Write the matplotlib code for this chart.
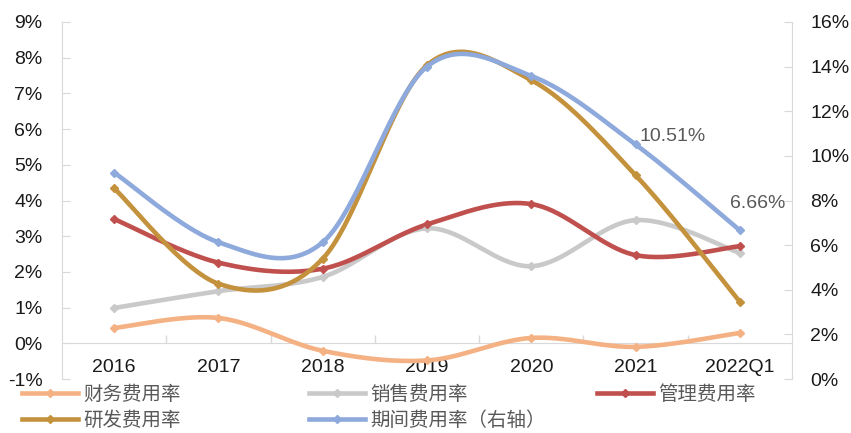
import numpy as np
import matplotlib
matplotlib.use("Agg")
import matplotlib.pyplot as plt
from matplotlib.lines import Line2D
from matplotlib.ticker import FixedLocator, FuncFormatter

plt.rcParams['font.family'] = ['Liberation Sans', 'Noto Sans CJK SC', 'DejaVu Sans']

categories = ['2016', '2017', '2018', '2019', '2020', '2021', '2022Q1']

# expense ratios (%), left axis
finance = [0.43, 0.71, -0.21, -0.48, 0.15, -0.10, 0.29]
sales = [0.99, 1.46, 1.86, 3.22, 2.16, 3.45, 2.53]
admin = [3.48, 2.26, 2.09, 3.33, 3.90, 2.47, 2.72]
rnd = [4.34, 1.67, 2.37, 7.79, 7.37, 4.71, 1.16]
# total period expense ratio (%), right axis
period = [9.25, 6.13, 6.13, 14.0, 13.58, 10.51, 6.66]

labels_cn = ['财务费用率', '销售费用率', '管理费用率', '研发费用率', '期间费用率（右轴）']
colors = ['#F4B183', '#C9C9C9', '#C0504D', '#C4913C', '#8EA9DB']


def smooth(xs, ys, n=40):
    """Bezier smoothing with Catmull-Rom style control points."""
    xs = np.asarray(xs, float)
    ys = np.asarray(ys, float)
    P = np.column_stack([xs, ys])
    m = len(P)
    out = []
    t = np.linspace(0, 1, n)[:, None]
    for i in range(m - 1):
        p0 = P[i - 1] if i > 0 else P[i]
        p1 = P[i]
        p2 = P[i + 1]
        p3 = P[i + 2] if i + 2 < m else P[i + 1]
        c1 = p1 + (p2 - p0) / 6.0
        c2 = p2 - (p3 - p1) / 6.0
        seg = ((1 - t) ** 3) * p1 + 3 * ((1 - t) ** 2) * t * c1 + 3 * (1 - t) * t ** 2 * c2 + t ** 3 * p2
        out.append(seg if i == 0 else seg[1:])
    out = np.vstack(out)
    return out[:, 0], out[:, 1]


fig = plt.figure(figsize=(8.51, 4.33), dpi=100)
ax = fig.add_axes([62 / 851, 54 / 433, 730 / 851, 357 / 433])
ax2 = ax.twinx()

x = np.arange(len(categories))
lw = 3.3
ms = 4.5

for vals, c in zip([finance, sales, admin, rnd], colors[:4]):
    sx, sy = smooth(x, vals)
    ax.plot(sx, sy, color=c, lw=lw, solid_capstyle='round', zorder=3)
    ax.plot(x, vals, ls='none', marker='D', ms=ms, color=c, zorder=4)

sx, sy = smooth(x, period)
ax2.plot(sx, sy, color=colors[4], lw=lw, solid_capstyle='round', zorder=3)
ax2.plot(x, period, ls='none', marker='D', ms=ms, color=colors[4], zorder=4)

# axis ranges
ax.set_xlim(-0.5, len(categories) - 0.5)
ax.set_ylim(-1, 9)
ax2.set_ylim(0, 16)

spine_c = '#D9D9D9'
for a in (ax, ax2):
    a.spines['top'].set_visible(False)
    a.spines['left'].set_color(spine_c)
    a.spines['right'].set_color(spine_c)
ax2.spines['bottom'].set_visible(False)
ax.spines['right'].set_visible(False)
ax2.spines['left'].set_visible(False)
ax.spines['bottom'].set_position(('data', 0))
ax.spines['bottom'].set_color(spine_c)

ax.yaxis.set_major_locator(FixedLocator(np.arange(-1, 10, 1)))
ax.yaxis.set_major_formatter(FuncFormatter(lambda v, p: f'{v:.0f}%'))
ax2.yaxis.set_major_locator(FixedLocator(np.arange(0, 17, 2)))
ax2.yaxis.set_major_formatter(FuncFormatter(lambda v, p: f'{v:.0f}%'))

ax.set_xticks(x)
ax.set_xticklabels(categories)
ax.xaxis.set_minor_locator(FixedLocator(np.arange(0.5, len(categories) - 0.5, 1)))
ax.tick_params(axis='x', which='major', length=0, pad=11, labelsize=14, labelcolor='#1a1a1a')
ax.tick_params(axis='x', which='minor', direction='in', length=6, color=spine_c, width=1)
ax.tick_params(axis='y', direction='in', length=6, color=spine_c, pad=14, labelsize=14, labelcolor='#1a1a1a')
ax2.tick_params(axis='y', direction='in', length=6, color=spine_c, pad=13, labelsize=14, labelcolor='#1a1a1a')

# value labels on the right-axis series
lab_c = '#595959'
ax2.annotate(f'{period[5]:.2f}%', (x[5], period[5]), xytext=(4, 8), textcoords='offset pixels',
             ha='left', va='center', fontsize=14, color=lab_c, zorder=6)
ax2.annotate(f'{period[6]:.2f}%', (x[6], period[6]), xytext=(-10, 27), textcoords='offset pixels',
             ha='left', va='center', fontsize=14, color=lab_c, zorder=6)

# legend: three columns, two rows
handles = [Line2D([], [], color=c, lw=lw, marker='D', ms=ms) for c in colors]
cols = [[0, 3], [1, 4], [2]]
col_x = [22, 309, 597]
for ci, idx in enumerate(cols):
    leg = fig.legend([handles[i] for i in idx], [labels_cn[i] for i in idx],
                     loc='upper left', bbox_to_anchor=(col_x[ci] / 851, 1 - 384 / 433),
                     frameon=False, handlelength=2.9, handletextpad=0.25, labelspacing=0.25,
                     borderpad=0.0, borderaxespad=0.0,
                     prop={'family': ['Noto Sans CJK SC', 'DejaVu Sans'], 'size': 14},
                     labelcolor=lab_c, numpoints=1)

fig.savefig('out.png', dpi=100)
